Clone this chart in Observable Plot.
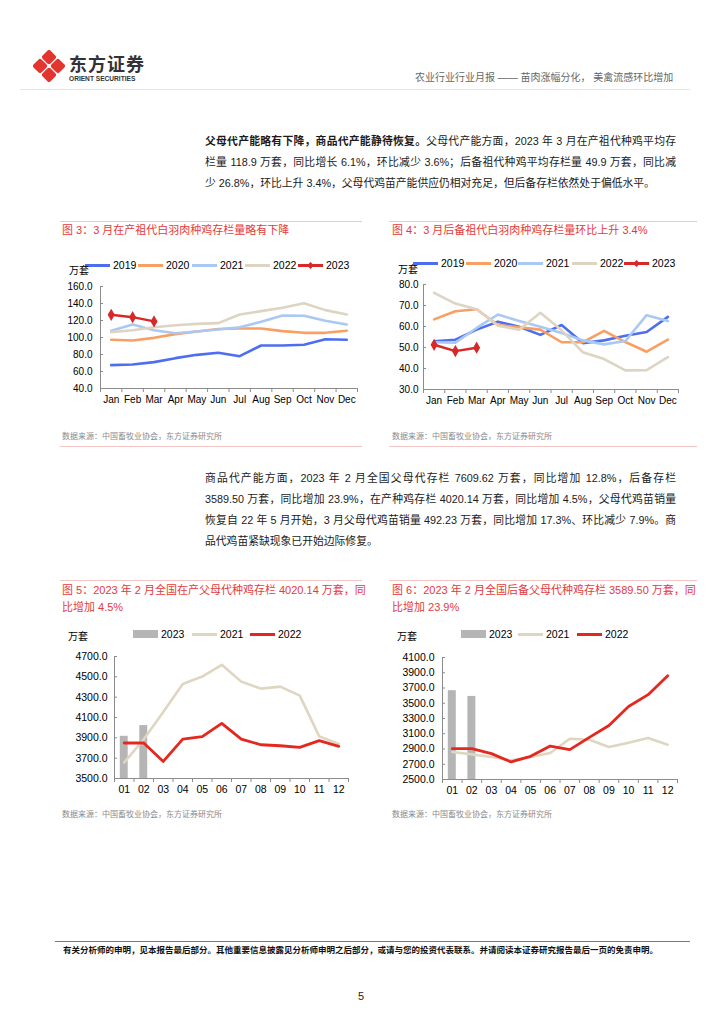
<!DOCTYPE html>
<html><head><meta charset="utf-8">
<script src="https://cdn.jsdelivr.net/npm/d3@7"></script>
<script src="https://cdn.jsdelivr.net/npm/@observablehq/plot@0.6"></script>
<style>
body{margin:0;background:#fff;}
#page{position:relative;width:724px;height:1024px;overflow:hidden;font-family:"Liberation Sans","Noto Sans CJK SC",sans-serif;color:#000;}
.a{position:absolute;white-space:nowrap;}
.rule{position:absolute;height:1px;}
.title{color:#e53a3a;font-size:11px;line-height:14px;}
.src{color:#8a8a8a;font-size:8px;line-height:10px;}
.body{font-size:10.8px;line-height:14px;color:#1a1a1a;width:471px;left:205px;text-align:justify;text-align-last:justify;}
.body.last{text-align-last:left;}
.leg{font-size:10.5px;line-height:12px;}
.unit{font-size:10px;line-height:12px;}
.chart{position:absolute;}
</style>
</head><body>
<div id="page">
  <!-- header -->
  <svg class="a" style="left:33px;top:50px" width="32" height="32" viewBox="0 0 34 34">
    <g fill="#e3342f">
      <rect x="11" y="1.5" width="12" height="12" rx="2.5" transform="rotate(45 17 7.5)"/>
      <rect x="11" y="20.5" width="12" height="12" rx="2.5" transform="rotate(45 17 26.5)"/>
      <rect x="1.5" y="11" width="12" height="12" rx="2.5" transform="rotate(45 7.5 17)"/>
      <rect x="20.5" y="11" width="12" height="12" rx="2.5" transform="rotate(45 26.5 17)"/>
    </g>
  </svg>
  <div class="a" style="left:69px;top:52px;font-size:18px;line-height:22px;font-weight:bold;color:#333;font-family:'Noto Sans CJK SC';letter-spacing:1px">东方证券</div>
  <div class="a" style="left:69px;top:75px;font-size:6.6px;line-height:8px;font-weight:bold;color:#333;">ORIENT SECURITIES</div>
  <div class="a" style="left:415px;top:71px;font-size:10px;line-height:14px;color:#666;">农业行业行业月报 —— 苗肉涨幅分化， 美禽流感环比增加</div>
  <div class="rule" style="left:20px;top:89px;width:670px;background:#e6e6e6"></div>

  <!-- paragraph 1 -->
  <div class="a body" style="top:134px"><b>父母代产能略有下降，商品代产能静待恢复。</b>父母代产能方面，2023 年 3 月在产祖代种鸡平均存</div>
  <div class="a body" style="top:155px">栏量 118.9 万套，同比增长 6.1%，环比减少 3.6%；后备祖代种鸡平均存栏量 49.9 万套，同比减</div>
  <div class="a body last" style="top:176px">少 26.8%，环比上升 3.4%，父母代鸡苗产能供应仍相对充足，但后备存栏依然处于偏低水平。</div>

  <!-- fig 3 -->
  <div class="rule" style="left:60px;top:221px;width:302px;background:#f3c4c4"></div>
  <div class="a title" style="left:62px;top:223px">图 3：3 月在产祖代白羽肉种鸡存栏量略有下降</div>
  <div id="leg3"></div>
  <div class="a unit" style="left:69px;top:265px">万套</div>
  <div id="c3" class="chart" style="left:60px;top:278px"></div>
  <div class="a src" style="left:62px;top:432px">数据来源：中国畜牧业协会，东方证券研究所</div>
  <div class="rule" style="left:60px;top:446px;width:302px;background:#f3c4c4"></div>

  <!-- fig 4 -->
  <div class="rule" style="left:389px;top:221px;width:308px;background:#f3c4c4"></div>
  <div class="a title" style="left:392px;top:223px">图 4：3 月后备祖代白羽肉种鸡存栏量环比上升 3.4%</div>
  <div id="leg4"></div>
  <div class="a unit" style="left:398px;top:264px">万套</div>
  <div id="c4" class="chart" style="left:390px;top:277px"></div>
  <div class="a src" style="left:392px;top:432px">数据来源：中国畜牧业协会，东方证券研究所</div>
  <div class="rule" style="left:389px;top:446px;width:308px;background:#f3c4c4"></div>

  <!-- paragraph 2 -->
  <div class="a body" style="top:471px">商品代产能方面，2023 年 2 月全国父母代存栏 7609.62 万套，同比增加 12.8%，后备存栏</div>
  <div class="a body" style="top:492px">3589.50 万套，同比增加 23.9%，在产种鸡存栏 4020.14 万套，同比增加 4.5%，父母代鸡苗销量</div>
  <div class="a body" style="top:513px">恢复自 22 年 5 月开始，3 月父母代鸡苗销量 492.23 万套，同比增加 17.3%、环比减少 7.9%。商</div>
  <div class="a body last" style="top:534px">品代鸡苗紧缺现象已开始边际修复。</div>

  <!-- fig 5 -->
  <div class="rule" style="left:60px;top:580px;width:302px;background:#f3c4c4"></div>
  <div class="a title" style="left:62px;top:583px">图 5：2023 年 2 月全国在产父母代种鸡存栏 4020.14 万套，同</div>
  <div class="a title" style="left:62px;top:600px">比增加 4.5%</div>
  <div id="leg5"></div>
  <div class="a unit" style="left:68px;top:631px">万套</div>
  <div id="c5" class="chart" style="left:60px;top:648px"></div>
  <div class="a src" style="left:62px;top:810px">数据来源：中国畜牧业协会，东方证券研究所</div>

  <!-- fig 6 -->
  <div class="rule" style="left:389px;top:580px;width:308px;background:#f3c4c4"></div>
  <div class="a title" style="left:392px;top:583px">图 6：2023 年 2 月全国后备父母代种鸡存栏 3589.50 万套，同</div>
  <div class="a title" style="left:392px;top:600px">比增加 23.9%</div>
  <div id="leg6"></div>
  <div class="a unit" style="left:397px;top:631px">万套</div>
  <div id="c6" class="chart" style="left:390px;top:649px"></div>
  <div class="a src" style="left:392px;top:810px">数据来源：中国畜牧业协会，东方证券研究所</div>

  <!-- footer -->
  <div class="rule" style="left:55px;top:941px;width:635px;background:#777"></div>
  <div class="a" style="left:63px;top:945px;font-size:8.5px;line-height:11px;font-weight:bold;color:#111">有关分析师的申明，见本报告最后部分。其他重要信息披露见分析师申明之后部分，或请与您的投资代表联系。并请阅读本证券研究报告最后一页的免责申明。</div>
  <div class="a" style="left:358px;top:989px;font-size:11px;line-height:14px;color:#222">5</div>
</div>
<script>
// ---------- data ----------
const months = ["Jan","Feb","Mar","Apr","May","Jun","Jul","Aug","Sep","Oct","Nov","Dec"];
const monthNums = ["01","02","03","04","05","06","07","08","09","10","11","12"];

// Fig 3: 在产祖代 (万套)
const gp2019 = [67.5,68.2,71,75.7,79.6,82,78,90.6,90.6,91.4,98,97.3];
const gp2020 = [97.3,96.5,99.6,104,107,110,110.6,110.6,107.5,105.5,105.5,108];
const gp2021 = [108,115.3,108.6,105,107,109.4,112,118.4,125.9,125.5,119.6,115.3];
const gp2022 = [106.3,108.6,112,114.5,116,116.9,127,131,134.9,140.4,132.2,127];
const gp2023 = [126.7,123.9,118.9];
const gpTicks = [40,60,80,100,120,140,160];

// Fig 4: 后备祖代 (万套)
const rg2019 = [52.9,53.7,58.5,62.3,59.9,56,60.7,52.1,53.4,55.6,57.4,64.6];
const rg2020 = [63.4,67.3,68.2,60.7,59.6,58.5,52.5,52.5,57.9,52.6,48,53.7];
const rg2021 = [52.5,52.3,59.3,65.7,62.6,59.9,56.9,53.4,51.5,53.1,65.4,62.6];
const rg2022 = [76,70.9,68.2,60.4,58.5,66.5,58.2,47.7,44.5,39.1,39.2,45.4];
const rg2023 = [51.3,48.3,49.9];
const rgTicks = [30,40,50,60,70,80];

// Fig 5: 在产父母代 (万套)
const pp2023 = [3915,4020.14];
const pp2021 = [3658,3885,4155,4430,4503,4618,4453,4384,4404,4315,3914,3839];
const pp2022 = [3849,3849,3668,3888,3911,4042,3888,3832,3822,3806,3872,3816];
const ppTicks = [3500,3700,3900,4100,4300,4500,4700];

// Fig 6: 后备父母代 (万套)
const rp2023 = [3665,3589.5];
const rp2021 = [2861,2830,2796,2752,2796,2848,3035,3022,2926,2983,3043,2957];
const rp2022 = [2904,2904,2839,2730,2804,2939,2891,3052,3209,3457,3613,3861];
const rpTicks = [2500,2700,2900,3100,3300,3500,3700,3900,4100];

const years5 = ["2019","2020","2021","2022","2023"];
const C = {"2019":"#4e6ef2","2020":"#f8a063","2021":"#a9c9f4","2022":"#ddd5c2","2023":"#d8282a"};
const C2 = {"2023":"#b5b5b5","2021":"#dfd6c2","2022":"#e5281f"};

const toRows = arr => arr.map((v,i)=>({i:i+1, v}));

function chart(o){
  const idx = o.xLabels.map((_,i)=>i+1);
  const bounds = [0.5, ...idx.map(i=>i+0.5)];
  const marks = [];
  if (o.bars) marks.push(Plot.rectY(toRows(o.bars.values), {
    x1: d=>d.i-0.5, x2: d=>d.i+0.5, y1: o.yDomain[0], y2: "v",
    fill: o.bars.color, insetLeft: o.bars.inset, insetRight: o.bars.inset
  }));
  marks.push(Plot.ruleY([o.yDomain[0]], {stroke:"#8c8c8c"}));
  marks.push(Plot.ruleX([0.5], {stroke:"#8c8c8c"}));
  marks.push(Plot.axisX({ticks: bounds, tickSize: 4, tickFormat: ()=>"", stroke:"#8c8c8c", label:null}));
  marks.push(Plot.axisX({ticks: idx, tickSize: 0, tickPadding: o.xPad ?? 7, tickFormat: i=>o.xLabels[i-1], label:null, fontSize: o.fs}));
  marks.push(Plot.axisY({ticks: o.yTicks, tickSize: 0, tickPadding: o.yPad ?? 7, tickFormat: d=>d.toFixed(1), label:null, fontSize: o.fs}));
  marks.push(Plot.axisY({ticks: o.yTicks, tickSize: -3, tickFormat: ()=>"", stroke:"#8c8c8c", label:null}));
  for (const s of o.series){
    marks.push(Plot.line(toRows(s.values), {x:"i", y:"v", stroke:s.color, strokeWidth: s.w ?? 2.6}));
    if (s.marker) marks.push(Plot.dot(toRows(s.values), {x:"i", y:"v", symbol:"diamond", fill:s.color, stroke:s.color, r:2.8}));
  }
  const p = Plot.plot({
    width:o.width, height:o.height,
    marginLeft:o.mL, marginRight:o.mR, marginTop:o.mT, marginBottom:o.mB,
    x:{domain:[0.5,12.5]}, y:{domain:o.yDomain},
    style:{fontFamily:'"Liberation Sans","Noto Sans CJK SC",sans-serif', fontSize:o.fs+"px", color:"#000", background:"transparent", overflow:"visible"},
    marks
  });
  document.getElementById(o.el).appendChild(p);
}

function legend(el, items, top){
  const host = document.getElementById(el);
  let html = "";
  for (const it of items){
    const h = it.bar ? 8 : 3;
    html += `<div class="a" style="left:${it.x}px;top:${top - h/2}px;width:25px;height:${h}px;background:${it.color}"></div>`;
    if (it.marker) html += `<div class="a" style="left:${it.x+9}px;top:${top-3.5}px;width:7px;height:7px;background:${it.color};transform:rotate(45deg) scale(0.7)"></div>`;
    html += `<div class="a leg" style="left:${it.x+28}px;top:${top-6}px">${it.label}</div>`;
  }
  host.innerHTML = html;
}

chart({el:"c3", width:300, height:130, mL:40, mR:3, mT:8, mB:20, yDomain:[40,160], yTicks:gpTicks, xLabels:months, fs:10, yPad:8,
  series:[{values:gp2019,color:C["2019"]},{values:gp2020,color:C["2020"]},{values:gp2021,color:C["2021"]},{values:gp2022,color:C["2022"]},{values:gp2023,color:C["2023"],marker:true,w:2.4}]});
legend("leg3", years5.map((y,k)=>({label:y,color:C[y],x:[85,138,192,245,298][k],marker:y==="2023"})), 265);

chart({el:"c4", width:310, height:132, mL:33, mR:22, mT:7, mB:20, yDomain:[30,80], yTicks:rgTicks, xLabels:months, fs:10, yPad:5,
  series:[{values:rg2019,color:C["2019"]},{values:rg2020,color:C["2020"]},{values:rg2021,color:C["2021"]},{values:rg2022,color:C["2022"]},{values:rg2023,color:C["2023"],marker:true,w:2.4}]});
legend("leg4", years5.map((y,k)=>({label:y,color:C[y],x:[413,466,518,572,624][k],marker:y==="2023"})), 263);

chart({el:"c5", width:300, height:150, mL:54, mR:12, mT:8, mB:20, yDomain:[3500,4700], yTicks:ppTicks, xLabels:monthNums, fs:10.5, yPad:7,
  bars:{values:pp2023,color:C2["2023"],inset:5.8},
  series:[{values:pp2021,color:C2["2021"]},{values:pp2022,color:C2["2022"],w:2.8}]});
legend("leg5", [{label:"2023",color:C2["2023"],x:133,bar:true},{label:"2021",color:C2["2021"],x:192},{label:"2022",color:C2["2022"],x:250}], 634);

chart({el:"c6", width:310, height:150, mL:52, mR:23, mT:8, mB:20, yDomain:[2500,4100], yTicks:rpTicks, xLabels:monthNums, fs:10.5, yPad:8,
  bars:{values:rp2023,color:C2["2023"],inset:5.8},
  series:[{values:rp2021,color:C2["2021"]},{values:rp2022,color:C2["2022"],w:2.8}]});
legend("leg6", [{label:"2023",color:C2["2023"],x:461,bar:true},{label:"2021",color:C2["2021"],x:518},{label:"2022",color:C2["2022"],x:577}], 634);
</script>
</body></html>
